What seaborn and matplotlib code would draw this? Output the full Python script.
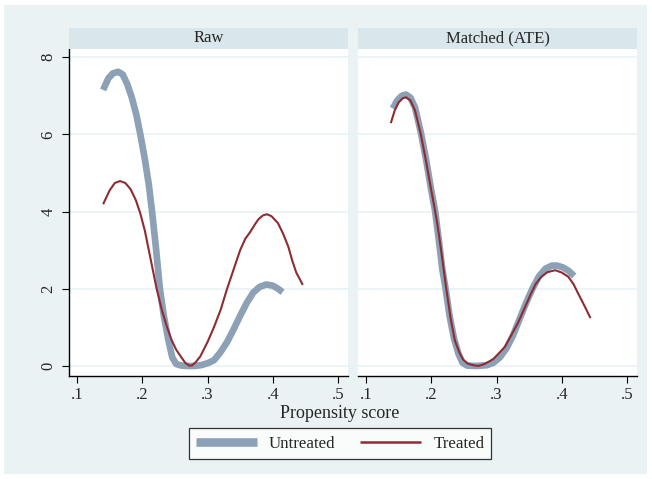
import numpy as np
import pandas as pd
import matplotlib
matplotlib.use("Agg")
import matplotlib.pyplot as plt
from matplotlib.patches import Rectangle
from matplotlib.lines import Line2D
import seaborn as sns

# Kernel density estimates of the propensity score, by treatment group
raw_untreated_x = [0.140, 0.148, 0.155, 0.163, 0.170, 0.177, 0.184, 0.191, 0.197, 0.204,
                   0.210, 0.215, 0.221, 0.227, 0.233, 0.240, 0.246, 0.252, 0.260, 0.270,
                   0.280, 0.290, 0.300, 0.310, 0.320, 0.330, 0.340, 0.350, 0.360, 0.370,
                   0.380, 0.390, 0.400, 0.408, 0.415]
raw_untreated_y = [7.15, 7.45, 7.58, 7.62, 7.55, 7.30, 6.95, 6.50, 6.00, 5.35,
                   4.70, 4.00, 3.05, 2.00, 1.30, 0.67, 0.22, 0.05, 0.01, 0.00,
                   0.00, 0.02, 0.07, 0.15, 0.36, 0.62, 0.95, 1.30, 1.63, 1.90,
                   2.05, 2.11, 2.08, 2.00, 1.91]

raw_treated_x = [0.140, 0.150, 0.158, 0.166, 0.174, 0.182, 0.190, 0.197, 0.204, 0.210,
                 0.216, 0.222, 0.230, 0.238, 0.245, 0.252, 0.260, 0.266, 0.272, 0.276,
                 0.282, 0.289, 0.300, 0.309, 0.320, 0.330, 0.340, 0.350, 0.358, 0.365,
                 0.372, 0.378, 0.385, 0.391, 0.398, 0.408, 0.416, 0.424, 0.430, 0.436,
                 0.446]
raw_treated_y = [4.19, 4.55, 4.74, 4.79, 4.74, 4.58, 4.30, 3.95, 3.50, 3.00,
                 2.50, 2.00, 1.45, 1.00, 0.67, 0.42, 0.22, 0.08, 0.01, 0.01,
                 0.10, 0.25, 0.62, 0.97, 1.45, 2.00, 2.50, 3.00, 3.30, 3.46,
                 3.65, 3.80, 3.90, 3.93, 3.88, 3.70, 3.42, 3.08, 2.72, 2.42,
                 2.10]

matched_untreated_x = [0.141, 0.148, 0.155, 0.161, 0.168, 0.175, 0.184, 0.192, 0.200, 0.206,
                       0.212, 0.217, 0.222, 0.228, 0.235, 0.242, 0.248, 0.255, 0.270, 0.285,
                       0.295, 0.305, 0.315, 0.325, 0.335, 0.345, 0.355, 0.365, 0.375, 0.385,
                       0.393, 0.402, 0.410, 0.419]
matched_untreated_y = [6.67, 6.88, 7.00, 7.03, 6.95, 6.70, 6.05, 5.35, 4.55, 4.00,
                       3.20, 2.50, 2.00, 1.30, 0.70, 0.30, 0.08, 0.01, 0.00, 0.02,
                       0.08, 0.22, 0.45, 0.78, 1.20, 1.62, 2.00, 2.32, 2.52, 2.60,
                       2.60, 2.55, 2.47, 2.33]

matched_treated_x = [0.138, 0.144, 0.150, 0.156, 0.161, 0.168, 0.175, 0.184, 0.192, 0.200,
                     0.206, 0.210, 0.215, 0.223, 0.230, 0.236, 0.243, 0.249, 0.256, 0.264,
                     0.272, 0.280, 0.287, 0.295, 0.302, 0.313, 0.322, 0.333, 0.343, 0.353,
                     0.360, 0.368, 0.378, 0.390, 0.400, 0.410, 0.418, 0.425, 0.435, 0.444]
matched_treated_y = [6.29, 6.62, 6.83, 6.93, 6.96, 6.88, 6.62, 6.00, 5.30, 4.55,
                     4.00, 3.60, 3.00, 2.00, 1.20, 0.67, 0.35, 0.16, 0.06, 0.02,
                     0.00, 0.04, 0.10, 0.18, 0.30, 0.50, 0.78, 1.12, 1.50, 1.88,
                     2.12, 2.30, 2.43, 2.48, 2.42, 2.31, 2.12, 1.88, 1.55, 1.24]

panels = ["Raw", "Matched (ATE)"]
groups = ["Untreated", "Treated"]
x_ticks = [0.1, 0.2, 0.3, 0.4, 0.5]
x_tick_labels = [".1", ".2", ".3", ".4", ".5"]
y_ticks = [0, 2, 4, 6, 8]

series = {
    ("Raw", "Untreated"): (raw_untreated_x, raw_untreated_y),
    ("Raw", "Treated"): (raw_treated_x, raw_treated_y),
    ("Matched (ATE)", "Untreated"): (matched_untreated_x, matched_untreated_y),
    ("Matched (ATE)", "Treated"): (matched_treated_x, matched_treated_y),
}
frames = []
for (panel, group), (xs, ys) in series.items():
    frames.append(pd.DataFrame({"panel": panel, "group": group, "ps": xs, "density": ys}))
df = pd.concat(frames, ignore_index=True)

sns.set_theme(style="white")
plt.rcParams["font.family"] = ["Liberation Serif", "DejaVu Serif"]

BG = "#EAF2F3"
STRIP = "#D9E6EC"
GRID = "#EAF2F3"
COLORS = {"Untreated": "#8CA1B5", "Treated": "#8E2B33"}
WIDTHS = {"Untreated": 4.8, "Treated": 1.5}

W, H = 652, 479
fig = plt.figure(figsize=(W / 100, H / 100), dpi=100, facecolor="white")
fig.patches.append(Rectangle((4 / W, 5 / H), 643 / W, 469 / H, transform=fig.transFigure,
                             facecolor=BG, edgecolor="none", zorder=-10))

def px_box(x0, y0, x1, y1):
    return [x0 / W, 1 - y1 / H, (x1 - x0) / W, (y1 - y0) / H]

axes_px = [(69, 49, 348, 376), (358, 49, 637, 376)]
for i, (panel, box) in enumerate(zip(panels, axes_px)):
    ax = fig.add_axes(px_box(*box))
    ax.set_facecolor("white")
    for y in y_ticks:
        ax.axhline(y, color=GRID, lw=1.2, zorder=0)
    sub = df[df["panel"] == panel]
    for group in groups:
        g = sub[sub["group"] == group]
        sns.lineplot(data=g, x="ps", y="density", ax=ax, color=COLORS[group],
                     lw=WIDTHS[group], sort=False, estimator=None,
                     solid_capstyle="butt", solid_joinstyle="round",
                     zorder=2 if group == "Untreated" else 3)
    ax.set_xlim(0.0877, 0.5153)
    ax.set_ylim(-0.26, 8.21)
    ax.set_xticks(x_ticks)
    ax.set_xticklabels(x_tick_labels, fontsize=12)
    ax.set_xlabel("")
    ax.set_ylabel("")
    for s in ["top", "right"]:
        ax.spines[s].set_visible(False)
    ax.spines["bottom"].set_color("black")
    ax.spines["bottom"].set_linewidth(1.0)
    ax.tick_params(axis="x", bottom=True, length=5, width=0.8, color="black", pad=3)
    if i == 0:
        ax.spines["left"].set_color("black")
        ax.spines["left"].set_linewidth(1.0)
        ax.set_yticks(y_ticks)
        ax.set_yticklabels([str(v) for v in y_ticks], rotation=90, va="center", fontsize=12)
        ax.tick_params(axis="y", left=True, length=5, width=0.8, color="black", pad=4)
    else:
        ax.spines["left"].set_visible(False)
        ax.set_yticks(y_ticks)
        ax.set_yticklabels([])
        ax.tick_params(axis="y", left=False)
    # facet strip with panel title
    x0, _, x1, _ = box
    fig.patches.append(Rectangle((x0 / W, 1 - 49 / H), (x1 - x0) / W, 21 / H,
                                 transform=fig.transFigure, facecolor=STRIP,
                                 edgecolor="none"))
    fig.text((x0 + x1) / 2 / W, 1 - 38.5 / H, panel, ha="center", va="center", fontsize=12)

fig.text(340 / W, 1 - 413 / H, "Propensity score", ha="center", va="center", fontsize=13)

handles = [Line2D([], [], color=COLORS[g], lw=6.2 if g == "Untreated" else 1.8,
                  solid_capstyle="butt") for g in groups]
leg = fig.legend(handles, groups, loc="center", bbox_to_anchor=(340 / W, 1 - 443.5 / H),
                 ncol=2, frameon=True, fancybox=False, fontsize=12.2, handlelength=3.6,
                 columnspacing=1.5, handletextpad=0.7, borderpad=0.42)
leg.get_frame().set_edgecolor("black")
leg.get_frame().set_linewidth(0.9)
leg.get_frame().set_facecolor("white")

fig.savefig("out.png", dpi=100, facecolor="white")
